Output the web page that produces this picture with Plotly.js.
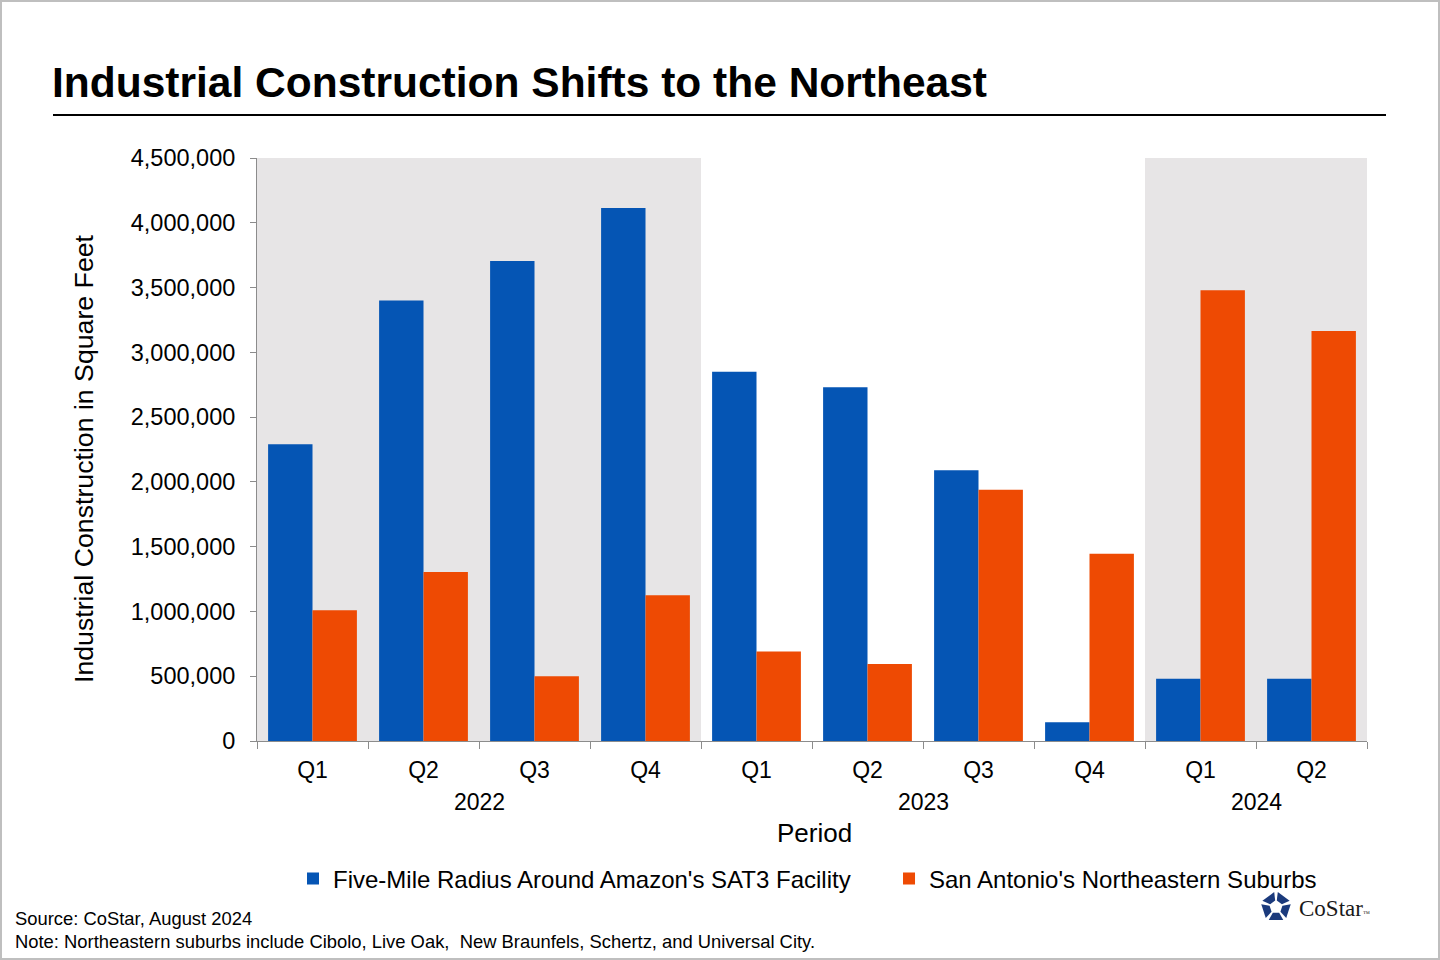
<!DOCTYPE html>
<html>
<head>
<meta charset="utf-8">
<script src="https://cdn.plot.ly/plotly-3.0.1.min.js"></script>
<style>
html, body { margin: 0; padding: 0; background: #fff; }
#chart { width: 1440px; height: 960px; }
</style>
</head>
<body>
<div id="chart"></div>
<script>
'use strict';

var years = ['2022', '2022', '2022', '2022', '2023', '2023', '2023', '2023', '2024', '2024'];
var quarters = ['Q1', 'Q2', 'Q3', 'Q4', 'Q1', 'Q2', 'Q3', 'Q4', 'Q1', 'Q2'];
var amazonRadius = [2290000, 3400000, 3705000, 4115000, 2850000, 2730000, 2090000, 145000, 480000, 480000];
var northeastSuburbs = [1010000, 1305000, 500000, 1125000, 690000, 595000, 1940000, 1445000, 3480000, 3165000];
var shadedYears = ['2022', '2024'];
var seriesNames = ["Five-Mile Radius Around Amazon's SAT3 Facility", "San Antonio's Northeastern Suburbs"];

var periods = quarters.map(function (q, i) { return q + ' ' + years[i]; });

// plot area in pixels, used to place decorations outside it
var L = 257, R = 1367, T = 158, B = 741;
function px(x) { return (x - L) / (R - L); }
function py(y) { return (B - y) / (B - T); }

var font = 'Liberation Sans, Arial, sans-serif';
var legendPad = '\u00a0\u00a0\u00a0\u00a0\u00a0'; // widens the gap between the legend entries

var data = [{
	x: periods,
	y: amazonRadius,
	name: seriesNames[0] + legendPad,
	type: 'bar',
	marker: { color: '#0555b4' },
	hoverinfo: 'y'
}, {
	x: periods,
	y: northeastSuburbs,
	name: seriesNames[1],
	type: 'bar',
	marker: { color: '#ee4a03' },
	hoverinfo: 'y'
}];

var shapes = [];
shadedYears.forEach(function (yr) {
	var first = years.indexOf(yr), last = years.lastIndexOf(yr);
	shapes.push({
		type: 'rect', layer: 'below', xref: 'x', yref: 'paper',
		x0: first - 0.5, x1: last + 0.5, y0: 0, y1: 1,
		fillcolor: '#e7e5e6', line: { width: 0 }
	});
});
// rule under the title
shapes.push({
	type: 'line', xref: 'paper', yref: 'paper',
	x0: px(53), x1: px(1386), y0: py(115), y1: py(115),
	line: { color: '#000', width: 2 }
});
// frame round the picture
shapes.push({
	type: 'rect', xref: 'paper', yref: 'paper',
	x0: px(1), x1: px(1439), y0: py(1), y1: py(959),
	line: { color: '#bfbfbf', width: 2 }
});
// CoStar mark: five blocks round a pentagon
var cx = 1276, cy = 907, ro = 15, ri = 6.5;
for (var k = 0; k < 5; k++) {
	var a0 = (-90 + k * 72 + 7) * Math.PI / 180;
	var a1 = (-90 + (k + 1) * 72 - 7) * Math.PI / 180;
	var pts = [
		[cx + ro * Math.cos(a0), cy + ro * Math.sin(a0)],
		[cx + ro * Math.cos(a1), cy + ro * Math.sin(a1)],
		[cx + ri * Math.cos(a1), cy + ri * Math.sin(a1)],
		[cx + ri * Math.cos(a0), cy + ri * Math.sin(a0)]
	];
	var path = pts.map(function (p, j) {
		return (j ? 'L' : 'M') + px(p[0]).toFixed(5) + ',' + py(p[1]).toFixed(5);
	}).join(' ') + ' Z';
	shapes.push({
		type: 'path', xref: 'paper', yref: 'paper', path: path,
		fillcolor: '#1b3a7c', line: { width: 0 }
	});
}

var annotations = [];
var seen = [];
years.forEach(function (yr) {
	if (seen.indexOf(yr) >= 0) return;
	seen.push(yr);
	var first = years.indexOf(yr), last = years.lastIndexOf(yr);
	annotations.push({
		x: (first + last) / 2, xref: 'x', y: py(802), yref: 'paper',
		text: yr, showarrow: false, yanchor: 'middle',
		font: { family: font, size: 23, color: '#000' }
	});
});
annotations.push({
	x: px(814), y: py(833), xref: 'paper', yref: 'paper', yanchor: 'middle',
	text: 'Period', showarrow: false,
	font: { family: font, size: 26, color: '#000' }
});
annotations.push({
	x: px(84), y: py(459), xref: 'paper', yref: 'paper', xanchor: 'center', yanchor: 'middle',
	text: 'Industrial Construction in Square Feet', showarrow: false, textangle: -90,
	font: { family: font, size: 26.7, color: '#000' }
});
annotations.push({
	x: px(13), y: py(918), xref: 'paper', yref: 'paper', xanchor: 'left', yanchor: 'middle',
	text: 'Source: CoStar, August 2024', showarrow: false,
	font: { family: font, size: 18.4, color: '#000' }
});
annotations.push({
	x: px(13), y: py(941), xref: 'paper', yref: 'paper', xanchor: 'left', yanchor: 'middle',
	text: 'Note: Northeastern suburbs include Cibolo, Live Oak,  New Braunfels, Schertz, and Universal City.', showarrow: false,
	font: { family: font, size: 18.4, color: '#000' }
});
annotations.push({
	x: px(1297), y: py(908), xref: 'paper', yref: 'paper', xanchor: 'left', yanchor: 'middle',
	text: 'CoStar<span style="font-size:7px">™</span>', showarrow: false,
	font: { family: 'Liberation Serif, serif', size: 23, color: '#1a1a1a' }
});

var layout = {
	width: 1440,
	height: 960,
	margin: { l: L, r: 1440 - R, t: T, b: 960 - B },
	paper_bgcolor: '#fff',
	plot_bgcolor: '#fff',
	font: { family: font, color: '#000' },
	title: {
		text: '<b>Industrial Construction Shifts to the Northeast</b>',
		x: 52 / 1440, xanchor: 'left', xref: 'container',
		y: 1 - 82 / 960, yanchor: 'middle', yref: 'container',
		font: { family: font, size: 42.5, color: '#000' }
	},
	barmode: 'group',
	bargap: 0.2,
	bargroupgap: 0,
	xaxis: {
		type: 'category',
		tickvals: periods,
		ticktext: quarters,
		tickson: 'boundaries',
		ticks: 'outside',
		ticklen: 7,
		tickcolor: '#8c8c8c',
		showline: true,
		linecolor: '#8c8c8c',
		showgrid: false,
		ticklabelstandoff: 8,
		tickfont: { family: font, size: 23, color: '#000' }
	},
	yaxis: {
		range: [0, 4500000],
		dtick: 500000,
		tickformat: ',d',
		ticks: 'outside',
		ticklen: 6,
		tickcolor: '#8c8c8c',
		showline: true,
		linecolor: '#8c8c8c',
		showgrid: false,
		zeroline: false,
		ticklabelstandoff: 10,
		tickfont: { family: font, size: 23.5, color: '#000' }
	},
	legend: {
		orientation: 'h',
		x: px(293), xanchor: 'left',
		y: py(879), yanchor: 'middle',
		font: { family: font, size: 24, color: '#000' },
		bgcolor: 'rgba(0,0,0,0)'
	},
	shapes: shapes,
	annotations: annotations,
	hovermode: false
};

Plotly.newPlot('chart', data, layout, { displayModeBar: false, staticPlot: true });
</script>
</body>
</html>
